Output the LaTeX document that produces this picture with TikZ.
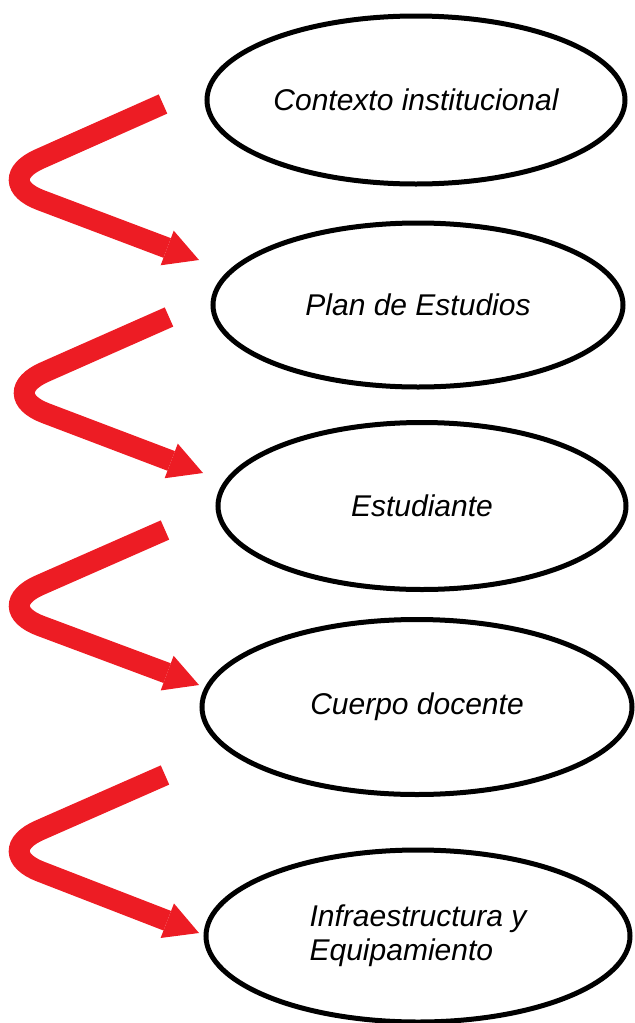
\documentclass[tikz,border=0pt]{standalone}
\usepackage{fontspec}
\setmainfont{Liberation Sans}
\usetikzlibrary{shapes.geometric,arrows.meta}
\definecolor{flowred}{RGB}{237,28,36}

\begin{document}
\begin{tikzpicture}[x=0.5pt, y=-0.5pt,
  stage/.style={draw, ellipse, line width=2.5pt, inner sep=0pt,
    font=\itshape\fontsize{15}{17}\selectfont},
  flow/.style={draw=flowred, line width=10.5pt, rounded corners=27pt,
    -{Triangle[length=17pt, width=18.5pt, line width=0pt]}}]
  \useasboundingbox (0,0) rectangle (634,1023);

  % the five stages
  \node[stage, minimum width=209pt, minimum height=84pt] (ctx) at (416,100) {Contexto institucional};
  \node[stage, minimum width=205pt, minimum height=82pt] (plan) at (418,305) {Plan de Estudios};
  \node[stage, minimum width=204pt, minimum height=83.5pt] (est) at (422,506) {Estudiante};
  \node[stage, minimum width=215pt, minimum height=87.5pt] (doc) at (417,707) {Cuerpo docente};
  \node[stage, minimum width=212pt, minimum height=86pt, align=left] (infra) at (418,936)
    {Infraestructura y\\Equipamiento};

  % red bent arrows
  \coordinate (t1) at (163,104);
  \coordinate (k1) at (-10,181);
  \coordinate (h1) at (199,260);
  \draw[flow] (t1) -- (k1) -- (h1);

  \coordinate (t2) at (169,317);
  \coordinate (k2) at (-5,394);
  \coordinate (h2) at (203,473);
  \draw[flow] (t2) -- (k2) -- (h2);

  \coordinate (t3) at (165,530);
  \coordinate (k3) at (-10,607);
  \coordinate (h3) at (199,685);
  \draw[flow] (t3) -- (k3) -- (h3);

  \coordinate (t4) at (165,775);
  \coordinate (k4) at (-10,852);
  \coordinate (h4) at (199,933);
  \draw[flow] (t4) -- (k4) -- (h4);
\end{tikzpicture}
\end{document}
